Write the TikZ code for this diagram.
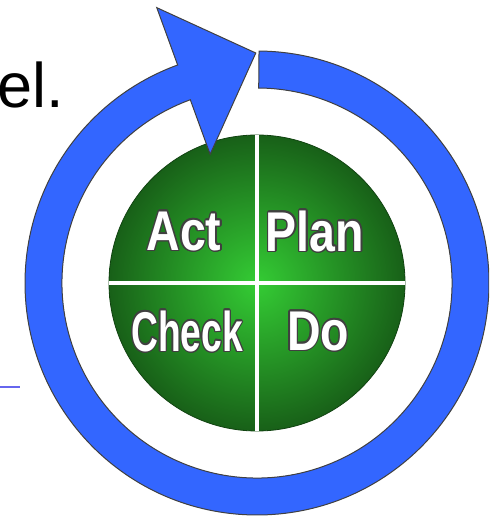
\documentclass[tikz,border=0pt]{standalone}
\usepackage{fontspec}
\setmainfont{Liberation Sans}
\usepackage{contour}
\usepackage{tikz}
\usetikzlibrary{positioning}
\definecolor{ringblue}{RGB}{51,102,255}
\definecolor{discin}{RGB}{52,204,52}
\definecolor{discout}{RGB}{24,96,24}
\definecolor{ruleblue}{RGB}{102,102,238}
\contourlength{0.8pt}
\tikzset{
    %Define style for the ring arrow
    ringarrow/.style={
           fill=ringblue,
           draw=black!75, line width=0.5pt},
    %Define style for the four quadrant labels
    quadlabel/.style={
           text=white,
           inner sep=0pt,
           font=\bfseries\fontsize{28}{28}\selectfont,
           xscale=0.83},
    checklabel/.style={
           quadlabel,
           xscale=0.8},
    divider/.style={
           draw=white, line width=2pt}
}
\newcommand{\quadtext}[1]{\contour{black!75}{#1}}

\begin{document}
\begin{tikzpicture}[x=0.5pt, y=0.5pt]
\useasboundingbox (0,0) rectangle (489,519);
\clip (0,0) rectangle (489,519);
\node[anchor=base east, inner sep=0pt, font=\fontsize{31.5}{31.5}\selectfont] (heading) at (64,411) {el.};
\coordinate (ruleleft) at (0,132);
\coordinate (ruleright) at (20,132);
\draw[ruleblue, line width=0.6pt] (ruleleft) -- (ruleright);
\begin{scope}[shift={(257,236)}]
% green disc
\shade[inner color=discin, outer color=discout] (0,0) circle[radius=148];
\draw[discout!70!black, line width=0.4pt] (0,0) circle[radius=148];
\draw[divider] (90:148) -- (270:148);
\draw[divider] (180:148) -- (0:148);
\node[quadlabel] (act) at (-73,51) {\quadtext{Act}};
\node[quadlabel] (plan) at (58,51) {\quadtext{Plan}};
\node[checklabel] (check) at (-70,-49) {\quadtext{Check}};
\node[quadlabel] (do) at (61,-49) {\quadtext{Do}};
% blue ring with its arrow head
\draw[ringarrow] (89.5:232) arc[start angle=89.5, end angle=-250, radius=232]
    -- (110:293) -- (90.3:230) -- (110:137) -- (110:195)
    arc[start angle=-250, end angle=89.5, radius=195] -- cycle;
\end{scope}
\end{tikzpicture}
\end{document}
